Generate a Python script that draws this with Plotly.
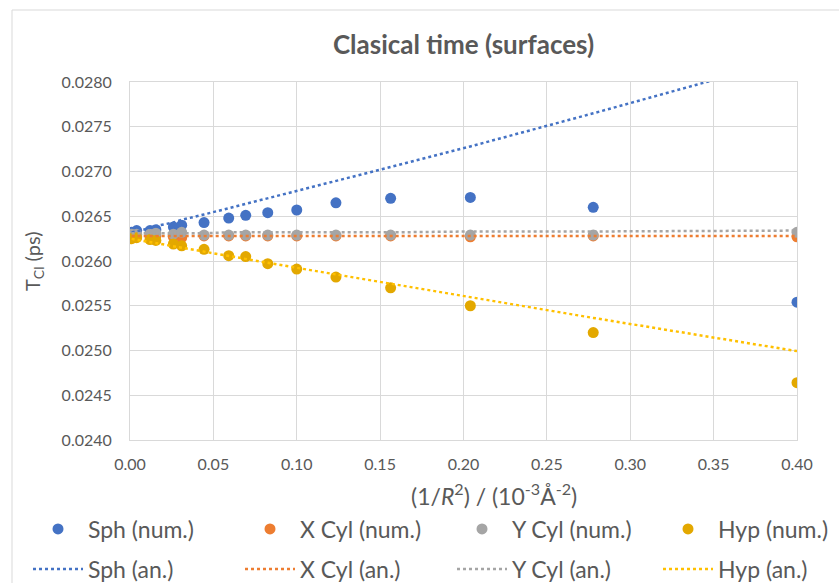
import plotly.graph_objects as go

# ---- data ----
x_vals = [0.001, 0.004, 0.012, 0.0155, 0.026, 0.031, 0.0444, 0.0592, 0.0694,
          0.0826, 0.100, 0.1235, 0.1563, 0.2041, 0.2778, 0.400]

sph_num = [0.02632, 0.02634, 0.02634, 0.02635, 0.02638, 0.02640, 0.02643, 0.02648,
           0.02651, 0.02654, 0.02657, 0.02665, 0.02670, 0.02671, 0.02660, 0.02554]
xcyl_num = [0.02628, 0.02628, 0.02628, 0.02628, 0.02627, 0.02626, 0.02628, 0.02628,
            0.02628, 0.02628, 0.02628, 0.02628, 0.02628, 0.02627, 0.02628, 0.02627]
ycyl_num = [0.02630, 0.02630, 0.02630, 0.02631, 0.02630, 0.02632, 0.02629, 0.02629,
            0.02629, 0.02629, 0.02629, 0.02629, 0.02629, 0.02629, 0.02629, 0.02632]
hyp_num = [0.02625, 0.02626, 0.02624, 0.02623, 0.02619, 0.02617, 0.02613, 0.02606,
           0.02605, 0.02597, 0.02591, 0.02582, 0.02570, 0.02550, 0.02520, 0.02464]

sph_an = [0.02632, 0.02633, 0.02637, 0.02639, 0.02643, 0.02646, 0.02652, 0.02659,
          0.02664, 0.02670, 0.02678, 0.02689, 0.02705, 0.02728, 0.02765, 0.02828]
xcyl_an = [0.02628, 0.02628, 0.02628, 0.02628, 0.02628, 0.02628, 0.02628, 0.02628,
           0.02628, 0.02628, 0.02628, 0.02628, 0.02628, 0.02628, 0.02628, 0.02628]
ycyl_an = [0.02631, 0.02631, 0.02631, 0.02631, 0.02631, 0.02631, 0.02631, 0.02632,
           0.02632, 0.02632, 0.02632, 0.02632, 0.02632, 0.02633, 0.02633, 0.02634]
hyp_an = [0.026247, 0.026237, 0.026210, 0.026199, 0.026166, 0.026149, 0.026104, 0.026056,
          0.026023, 0.025980, 0.025924, 0.025849, 0.025744, 0.025593, 0.025364, 0.024993]

num_names = ["Sph (num.)", "X Cyl (num.)", "Y Cyl (num.)", "Hyp (num.)"]
an_names = ["Sph (an.)", "X Cyl (an.)", "Y Cyl (an.)", "Hyp (an.)"]
num_series = [sph_num, xcyl_num, ycyl_num, hyp_num]
an_series = [sph_an, xcyl_an, ycyl_an, hyp_an]

marker_colors = ["#4472C4", "#ED7D31", "#A5A5A5", "#E3A800"]
line_colors = ["#4472C4", "#ED7D31", "#A5A5A5", "#FFC000"]

W, H = 839, 583
L, R, T, B = 130, 42, 82, 143

FONT = "Lato"
GREY = "#595959"

fig = go.Figure()

# legend column text x positions (px) and row y (px)
col_text_x = [88, 300, 512, 718]
row_y = [529, 569]
ITEMW = 50

for i in range(4):
    fig.add_trace(go.Scatter(
        x=x_vals, y=num_series[i], mode="markers", name=num_names[i],
        marker=dict(color=marker_colors[i], size=11),
        legend="legend" if i == 0 else f"legend{i + 1}",
    ))
for i in range(4):
    fig.add_trace(go.Scatter(
        x=x_vals, y=an_series[i], mode="lines", name=an_names[i],
        line=dict(color=line_colors[i], width=2.5, dash="dot"),
        legend=f"legend{i + 5}",
    ))

legends = {}
for k in range(8):
    col = k % 4
    row = k // 4
    key = "legend" if k == 0 else f"legend{k + 1}"
    legends[key] = dict(
        x=(col_text_x[col] - ITEMW - 10) / W, y=1 - row_y[row] / H,
        xref="container", yref="container",
        xanchor="left", yanchor="middle",
        bgcolor="rgba(0,0,0,0)", borderwidth=0, itemwidth=ITEMW,
        font=dict(family=FONT, size=23, color=GREY),
    )

fig.update_layout(
    width=W, height=H,
    margin=dict(l=L, r=R, t=T, b=B, autoexpand=False),
    paper_bgcolor="white", plot_bgcolor="white",
    title=dict(text="<b>Clasical time (surfaces)</b>", x=(L + (W - R)) / 2 / W, xanchor="center",
               y=1 - 45 / H, yanchor="middle",
               font=dict(family=FONT, size=26, color=GREY)),
    showlegend=True,
    **legends,
)

fig.update_xaxes(
    range=[0, 0.40], dtick=0.05, tick0=0, tickformat=".2f",
    showgrid=True, gridcolor="#D9D9D9", gridwidth=1,
    showline=True, linecolor="#D9D9D9", mirror=True, zeroline=False,
    ticks="", ticklabelstandoff=10,
    tickfont=dict(family=FONT, size=16, color=GREY),
    automargin=False,
)
fig.update_yaxes(
    range=[0.0240, 0.0280], dtick=0.0005, tick0=0.0240, tickformat=".4f",
    showgrid=True, gridcolor="#D9D9D9", gridwidth=1,
    showline=True, linecolor="#D9D9D9", mirror=True, zeroline=False,
    ticks="", ticklabelstandoff=14,
    tickfont=dict(family=FONT, size=16, color=GREY),
    automargin=False,
)

pw = W - L - R
ph = H - T - B

# axis titles as annotations
fig.add_annotation(
    text="T<sub>Cl</sub> (ps)", textangle=-90, showarrow=False,
    xref="paper", yref="paper", x=(33 - L) / pw, y=0.5,
    xanchor="center", yanchor="middle",
    font=dict(family=FONT, size=20, color=GREY),
)
fig.add_annotation(
    text="(1/<i>R</i><sup>2</sup>) / (10<sup>-3</sup>Å<sup>-2</sup>)", showarrow=False,
    xref="paper", yref="paper", x=(494 - L) / pw, y=(T + ph - 494) / ph,
    xanchor="center", yanchor="middle",
    font=dict(family=FONT, size=23, color=GREY),
)

# chart-area border (Excel style)
fig.add_shape(type="rect", xref="paper", yref="paper",
              x0=(12 - L) / pw, x1=(W + 5 - L) / pw,
              y0=-(H + 5 - T - ph) / ph, y1=(T + ph - 10) / ph,
              line=dict(color="#D9D9D9", width=1), fillcolor="rgba(0,0,0,0)", layer="below")

fig.write_html("out.html")
